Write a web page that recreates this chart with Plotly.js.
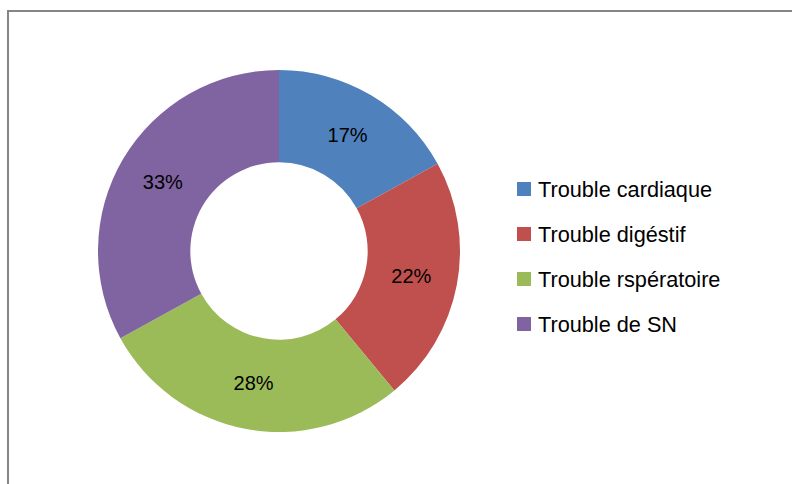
<!DOCTYPE html>
<html>
<head>
<meta charset="utf-8">
<script src="https://cdn.plot.ly/plotly-3.0.1.min.js"></script>
<style>html,body{margin:0;padding:0;background:#fff;}#chart{width:792px;height:484px;}</style>
</head>
<body>
<div id="chart"></div>
<script>
const categories = ["Trouble cardiaque", "Trouble digéstif", "Trouble rspératoire", "Trouble de SN"];
const values = [17, 22, 28, 33];
const colors = ["#4F81BD", "#C0504D", "#9BBB59", "#8064A2"];

const W = 792, H = 484;
const px = x => x / W;
const py = y => 1 - y / H;

const trace = {
  type: "pie",
  labels: categories,
  values: values,
  hole: 0.49,
  sort: false,
  direction: "clockwise",
  rotation: 0,
  marker: {colors: colors, line: {width: 0}},
  textinfo: "percent",
  textposition: "inside",
  insidetextorientation: "horizontal",
  insidetextfont: {family: "Liberation Sans, Arial, sans-serif", size: 20, color: "#000"},
  domain: {x: [px(98), px(460)], y: [py(432), py(70)]},
  hoverinfo: "label+percent",
  showlegend: false
};

const shapes = [{
  type: "path", xref: "paper", yref: "paper",
  path: `M ${px(8)} ${py(490)} L ${px(8)} ${py(11)} L ${px(800)} ${py(11)}`,
  line: {color: "#868686", width: 2}
}];
const annotations = [];
categories.forEach((c, i) => {
  const cy = 189 + i * 45;
  shapes.push({type: "rect", xref: "paper", yref: "paper",
    x0: px(517), x1: px(531), y0: py(cy - 7), y1: py(cy + 7),
    fillcolor: colors[i], line: {width: 0}});
  annotations.push({xref: "paper", yref: "paper", x: px(536), y: py(cy),
    xanchor: "left", yanchor: "middle", showarrow: false, text: c,
    font: {family: "Liberation Sans, Arial, sans-serif", size: 21.7, color: "#000"}});
});

const layout = {
  width: W, height: H,
  margin: {l: 0, r: 0, t: 0, b: 0},
  paper_bgcolor: "#fff",
  showlegend: false,
  shapes: shapes,
  annotations: annotations
};
Plotly.newPlot("chart", [trace], layout, {displayModeBar: false, staticPlot: true});
</script>
</body>
</html>
